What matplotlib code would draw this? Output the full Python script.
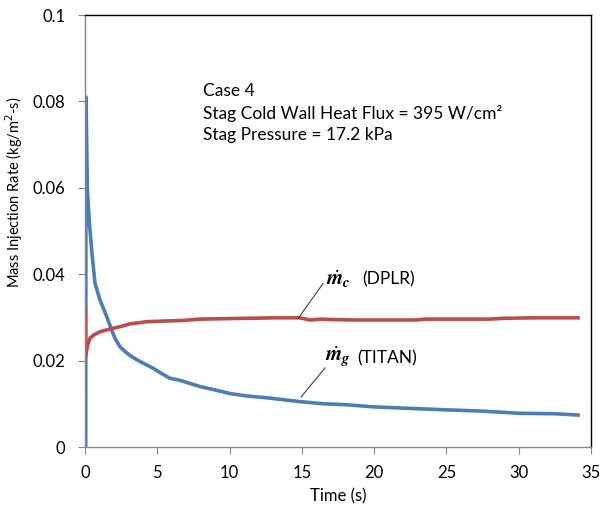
import matplotlib
matplotlib.use("Agg")
import matplotlib.pyplot as plt

# --- Data ---
# TITAN (blue), mass injection rate vs time
titan_t = [0.0, 0.05, 0.07, 0.16, 0.3, 0.46, 0.69, 1.04, 1.5, 1.84, 2.1, 2.42, 2.77,
           3.23, 3.8, 4.73, 5.3, 5.88, 6.5, 7.95, 9.0, 10.0, 11.2, 12.56, 14.87,
           16.5, 18.0, 19.94, 22.0, 25.0, 27.5, 30.08, 32.5, 34.1]
titan_v = [0.0, 0.0, 0.081, 0.060, 0.052, 0.0456, 0.0379, 0.034, 0.0302, 0.0271,
           0.025, 0.0232, 0.0221, 0.0209, 0.0198, 0.0182, 0.0170, 0.0159, 0.0155,
           0.0140, 0.0132, 0.0124, 0.0118, 0.0114, 0.0105, 0.0100, 0.0098, 0.0093,
           0.0090, 0.0086, 0.0083, 0.0078, 0.0077, 0.0074]

# DPLR (red)
dplr_t = [0.03, 0.03, 0.1, 0.2, 0.35, 0.6, 1.04, 1.5, 1.96, 2.5, 3.1, 4.27, 5.88,
          6.8, 7.95, 9.5, 11.4, 13.0, 14.87, 15.56, 16.3, 17.2, 18.5, 20.0, 22.9,
          23.5, 25.0, 28.0, 29.0, 31.0, 34.1]
dplr_v = [0.0321, 0.0209, 0.0222, 0.0238, 0.0252, 0.0259, 0.0267, 0.0271, 0.0275,
          0.0279, 0.0285, 0.0290, 0.0292, 0.0293, 0.0296, 0.0297, 0.0298, 0.0299,
          0.0299, 0.0294, 0.0296, 0.0295, 0.0294, 0.0294, 0.0294, 0.0296, 0.0296,
          0.0296, 0.0298, 0.0299, 0.0299]

x_ticks = [0, 5, 10, 15, 20, 25, 30, 35]
y_ticks = [0, 0.02, 0.04, 0.06, 0.08, 0.1]
y_tick_labels = ["0", "0.02", "0.04", "0.06", "0.08", "0.1"]

case_text = ("Case 4\n"
             "Stag Cold Wall Heat Flux = 395 W/cm\u00b2\n"
             "Stag Pressure = 17.2 kPa")

BLUE = "#4A7EBB"
RED = "#BE4B48"
GRAY = "#868686"

plt.rcParams["font.family"] = ["Lato", "DejaVu Sans"]

fig = plt.figure(figsize=(6.01, 5.12), dpi=100)
ax = fig.add_axes([85 / 601, 65 / 512, 506 / 601, 432 / 512])

ax.plot(titan_t, titan_v, color=BLUE, lw=2.6, solid_joinstyle="round")
ax.plot(dplr_t, dplr_v, color=RED, lw=2.6, solid_joinstyle="round")

ax.set_xlim(0, 35)
ax.set_ylim(0, 0.1)
ax.set_xticks(x_ticks)
ax.set_yticks(y_ticks)
ax.set_yticklabels(y_tick_labels)
ax.tick_params(direction="out", length=5, color=GRAY, labelsize=12)
ax.tick_params(axis="y", pad=9)
ax.tick_params(axis="x", pad=8)

ax.spines["left"].set_color(GRAY)
ax.spines["bottom"].set_color(GRAY)
ax.spines["top"].set_color("black")
ax.spines["right"].set_color("black")
for s in ax.spines.values():
    s.set_linewidth(1.0)

ax.set_xlabel("Time (s)", fontsize=12, labelpad=5)
ax.set_ylabel("Mass Injection Rate (kg/m$^2$-s)", fontsize=10.5)
ax.yaxis.set_label_coords(-0.118, 0.59)

ax.text(8.15, 0.0773, case_text, fontsize=12.5, linespacing=1.42, va="center", ha="left")

# leader lines and series labels
ax.plot([14.75, 16.48], [0.0298, 0.0379], color="#404040", lw=0.8)
ax.text(16.7, 0.0389, r"$\dot{\boldsymbol{m}}_{\boldsymbol{c}}$", fontsize=15,
        va="center", math_fontfamily="stix")
ax.text(19.15, 0.0389, "(DPLR)", fontsize=12.5, va="center")

ax.plot([14.95, 16.6], [0.0116, 0.0183], color="#404040", lw=0.8)
ax.text(16.6, 0.0208, r"$\dot{\boldsymbol{m}}_{\boldsymbol{g}}$", fontsize=15,
        va="center", math_fontfamily="stix")
ax.text(18.85, 0.0206, "(TITAN)", fontsize=12.5, va="center")

fig.savefig("out.png", dpi=100)
